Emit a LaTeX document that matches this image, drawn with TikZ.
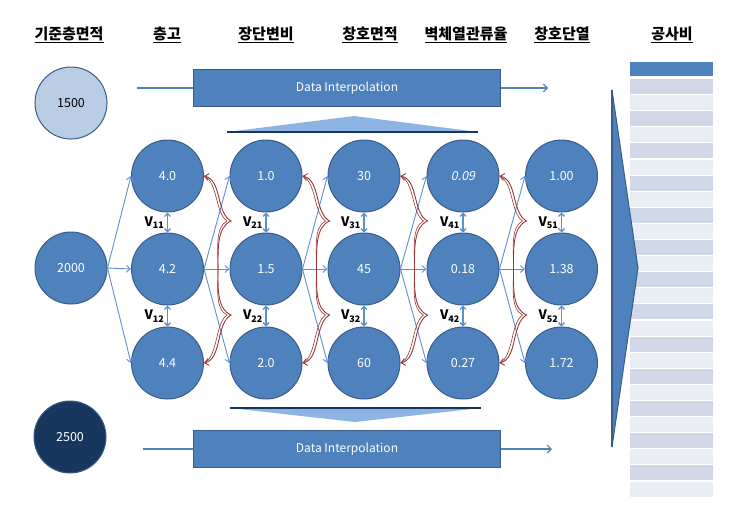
\documentclass[tikz,border=0pt]{standalone}
\usepackage{fontspec}
\setmainfont{Noto Sans CJK KR}
\newfontfamily\slnt[FakeSlant=0.2]{Noto Sans CJK KR}
\usetikzlibrary{arrows.meta,positioning}

\definecolor{cblue}{HTML}{4F81BD}
\definecolor{cedge}{HTML}{385D8A}
\definecolor{clight}{HTML}{B9CDE5}
\definecolor{cnavy}{HTML}{17375E}
\definecolor{ctri}{HTML}{8EB4E3}
\definecolor{cred}{HTML}{953735}
\definecolor{cline}{HTML}{5B8FD0}
\definecolor{rowa}{HTML}{D0D8E8}
\definecolor{rowb}{HTML}{E9EDF4}

\newcommand{\vsub}[1]{V\raisebox{-2.5pt}{\fontsize{9}{9}\selectfont #1}}

\tikzset{
  circ/.style={circle, draw=cedge, line width=1pt, fill=cblue, minimum size=72pt,
    inner sep=0pt, text=white, font=\fontsize{12.5}{12.5}\selectfont},
  head/.style={font=\bfseries\fontsize{15}{15}\selectfont},
  vlab/.style={font=\bfseries\fontsize{13}{13}\selectfont, inner sep=1pt},
  ibox/.style={rectangle, draw=cedge, line width=1.5pt, fill=cblue, text=white,
    minimum width=307pt, minimum height=37pt, font=\fontsize{12}{12}\selectfont},
  link/.style={draw=cline, line width=0.9pt, -{Straight Barb[length=4pt,width=7pt]}},
  vlink/.style={draw=cline, line width=1.3pt,
    {Straight Barb[length=3pt,width=6pt]}-{Straight Barb[length=3pt,width=6pt]}},
  brace/.style={draw=cred, line width=0.9pt},
  flow/.style={draw=cblue, line width=1.2pt}
}

\begin{document}
\begin{tikzpicture}[x=1pt,y=-1pt,>=Straight Barb]
\useasboundingbox (0,0) rectangle (746,507);

% headers
\foreach \x/\t in {69/기준층면적,167/층고,266/장단변비,370/창호면적,466/벽체열관류율,562/창호단열,672/공사비}
  \node[head] (h\x) at (\x,35) {\underline{\t}};

% floor area cases
\node[circ, fill=clight, text=black] (s1) at (71,103) {1500};
\node[circ] (s2) at (71,268) {2000};
\node[circ, fill=cnavy] (s3) at (70,437) {2500};

% variable grid
\foreach \c/\x/\a/\b/\d in {1/167.5/4.0/4.2/4.4, 2/266/1.0/1.5/2.0, 3/364/30/45/60,
    4/463/{\slnt 0.09}/0.18/0.27, 5/561.5/1.00/1.38/1.72} {
  \node[circ] (n\c1) at (\x,176) {\a};
  \node[circ] (n\c2) at (\x,269) {\b};
  \node[circ] (n\c3) at (\x,363) {\d};
  \draw[vlink] (n\c1) -- node[vlab, left=2pt] {\vsub{\c1}} (n\c2);
  \draw[vlink] (n\c2) -- node[vlab, left=2pt] {\vsub{\c2}} (n\c3);
}

% fan out
\foreach \r in {1,2,3}
  \draw[link] (s2.east) -- (n1\r.west);
\foreach \c/\d in {1/2,2/3,3/4,4/5} {
  \foreach \r in {1,2,3}
    \draw[link] (n\c2.east) -- (n\d\r.west);
  \draw[brace, {Straight Barb[length=4pt,width=7pt]}-{Straight Barb[length=4pt,width=7pt]}]
    (n\c1.east) .. controls +(18,4) and +(-15,-8) .. ++(27,45)
    .. controls +(-14,6) and +(0,-20) .. ++(-13,48)
    .. controls +(0,20) and +(-14,-6) .. ++(13,46)
    .. controls +(-15,8) and +(18,-4) .. (n\c3.east);
  \draw[brace, line width=0.6pt]
    (n\c1.east) .. controls +(14,6) and +(-12,-8) .. ++(23,45)
    .. controls +(-12,6) and +(0,-20) .. ++(-9,48)
    .. controls +(0,20) and +(-12,-6) .. ++(9,46)
    .. controls +(-12,8) and +(14,-6) .. (n\c3.east);
}

% interpolation bars
\node[ibox] (i1) at (347,88) {Data Interpolation};
\node[ibox] (i2) at (347,449) {Data Interpolation};
\coordinate (a1) at (137,88);
\coordinate (b1) at (548,88);
\coordinate (a2) at (143,449);
\coordinate (b2) at (552,449);
\draw[flow] (a1) -- (i1.west);
\draw[flow, ->] (i1.east) -- (b1);
\draw[flow] (a2) -- (i2.west);
\draw[flow, ->] (i2.east) -- (b2);

% triangles
\fill[ctri] (227,132) -- (354,116) -- (478,132) -- cycle;
\draw[cnavy, line width=2pt] (227,132) -- (478,132);
\fill[ctri] (230,408) -- (481,408) -- (355,422) -- cycle;
\draw[cnavy, line width=2pt] (230,408) -- (481,408);

% cost table
\fill[cblue] (630,62) rectangle (713,76);
\foreach \i in {0,2,...,24}
  \fill[rowa] (630,{79+16.1*\i}) rectangle (713,{79+16.1*\i+15});
\foreach \i in {1,3,...,25}
  \fill[rowb] (630,{79+16.1*\i}) rectangle (713,{79+16.1*\i+15});

% chevron
\filldraw[fill=cblue, draw=cedge, line width=1pt, line join=round]
  (612,90) -- (638,268) -- (612,447) -- cycle;
\draw[cedge, line width=2pt] (612,90) -- (612,447);

\end{tikzpicture}
\end{document}
